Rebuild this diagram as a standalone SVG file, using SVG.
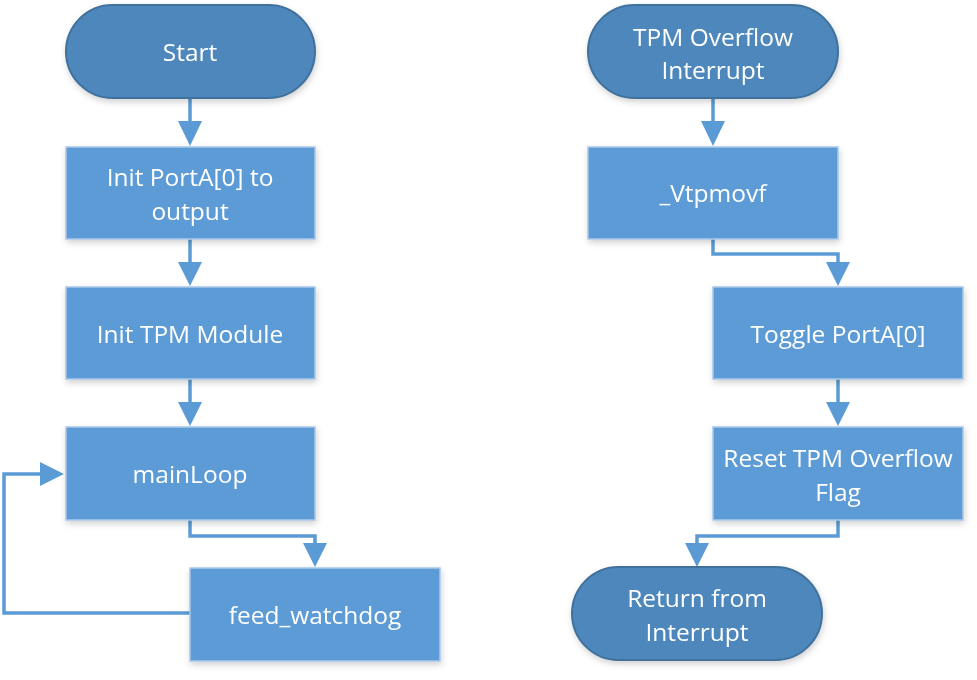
<svg xmlns="http://www.w3.org/2000/svg" width="977" height="680" viewBox="0 0 977 680">
<style>
.term{fill:#4D87BB;stroke:#41719C;stroke-width:2}
.box{fill:#5B9BD5;stroke:#A9C8EA;stroke-width:1.5}
.t{fill:#fff;font-family:"Open Sans","Noto Sans","DejaVu Sans",sans-serif;font-size:24.5px;text-anchor:middle;dominant-baseline:central}
.c{fill:none;stroke:#5B9BD5;stroke-width:3.5}
.ah{fill:#5B9BD5}
</style>
<defs>
<filter id="sh" x="-10%" y="-10%" width="130%" height="140%">
<feDropShadow dx="1" dy="3" stdDeviation="3" flood-color="#000" flood-opacity="0.18"/>
</filter>
</defs>
<rect width="977" height="680" fill="#fff"/>
<g id="connectors">
<path class="c" d="M190,98V124"/><polygon class="ah" points="178,121 202,121 190,146"/>
<path class="c" d="M190,239V264"/><polygon class="ah" points="178,262 202,262 190,286"/>
<path class="c" d="M190,379V404"/><polygon class="ah" points="178,402 202,402 190,426"/>
<path class="c" d="M190,520V536H315V545"/><polygon class="ah" points="303,543 327,543 315,567"/>
<path class="c" d="M190,613H4V474H44"/><polygon class="ah" points="40,462 40,486 64,474"/>
<path class="c" d="M713,98V124"/><polygon class="ah" points="701,121 725,121 713,146"/>
<path class="c" d="M713,239V254H838V264"/><polygon class="ah" points="826,262 850,262 838,286"/>
<path class="c" d="M838,379V404"/><polygon class="ah" points="826,402 850,402 838,426"/>
<path class="c" d="M838,520V536H697V545"/><polygon class="ah" points="685,543 709,543 697,567"/>
</g>
<g id="start" filter="url(#sh)"><rect class="term" x="66" y="5" width="249" height="93" rx="46.5"/><text class="t" x="190" y="51">Start</text></g>
<g id="initPortA" filter="url(#sh)"><rect class="box" x="66" y="147" width="249" height="92"/><text class="t" x="190" y="176">Init PortA[0] to</text><text class="t" x="190" y="210">output</text></g>
<g id="initTPM" filter="url(#sh)"><rect class="box" x="66" y="287" width="249" height="92"/><text class="t" x="190" y="333">Init TPM Module</text></g>
<g id="mainLoop" filter="url(#sh)"><rect class="box" x="66" y="427" width="249" height="93"/><text class="t" x="190" y="473">mainLoop</text></g>
<g id="feed" filter="url(#sh)"><rect class="box" x="190" y="568" width="250" height="93"/><text class="t" x="315" y="614">feed_watchdog</text></g>
<g id="tpmInt" filter="url(#sh)"><rect class="term" x="588" y="5" width="250" height="93" rx="46.5"/><text class="t" x="713" y="36">TPM Overflow</text><text class="t" x="713" y="69">Interrupt</text></g>
<g id="vtpmovf" filter="url(#sh)"><rect class="box" x="588" y="147" width="250" height="92"/><text class="t" x="713" y="192">_Vtpmovf</text></g>
<g id="toggle" filter="url(#sh)"><rect class="box" x="713" y="287" width="250" height="92"/><text class="t" x="838" y="333">Toggle PortA[0]</text></g>
<g id="reset" filter="url(#sh)"><rect class="box" x="713" y="427" width="250" height="93"/><text class="t" x="838" y="457">Reset TPM Overflow</text><text class="t" x="838" y="491">Flag</text></g>
<g id="return" filter="url(#sh)"><rect class="term" x="572" y="567" width="250" height="93" rx="46.5"/><text class="t" x="697" y="597">Return from</text><text class="t" x="697" y="631">Interrupt</text></g>
</svg>
